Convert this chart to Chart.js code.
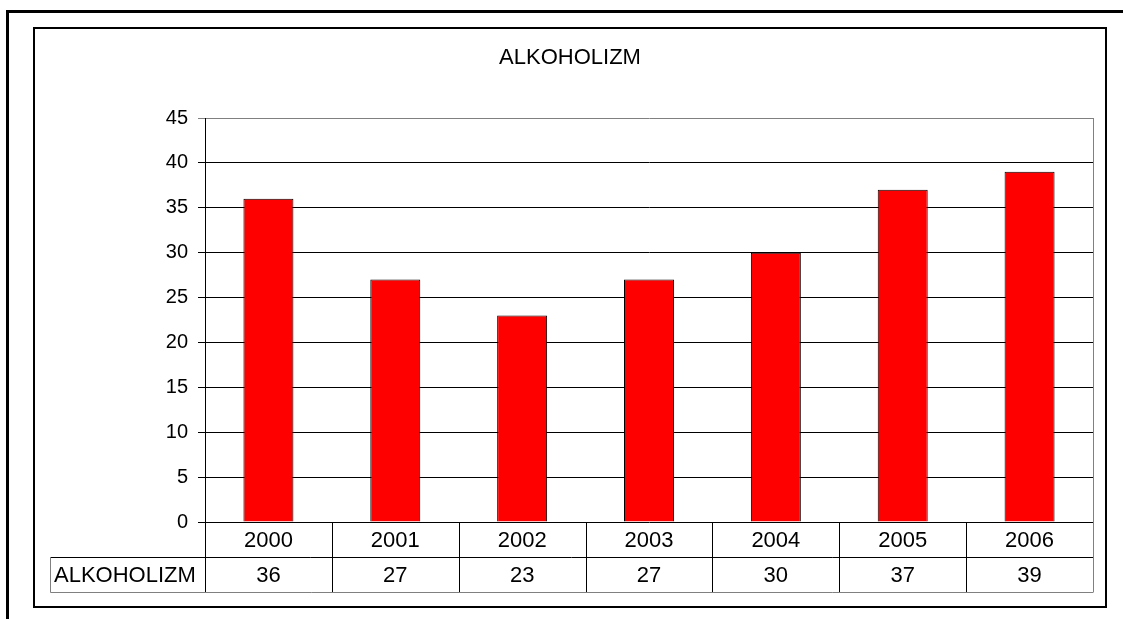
<!DOCTYPE html>
<html>
<head>
<meta charset="utf-8">
<script src="https://cdn.jsdelivr.net/npm/chart.js"></script>
<style>
  html, body { margin: 0; padding: 0; background: #ffffff; }
  #chart { display: block; }
</style>
</head>
<body>
<canvas id="chart" width="1123" height="619"></canvas>
<script>
const seriesName = "ALKOHOLIZM";
const years = ["2000", "2001", "2002", "2003", "2004", "2005", "2006"];
const alkoholizm = [36, 27, 23, 27, 30, 37, 39];
const yMax = 45;
const yStep = 5;

const FONT = "'Liberation Sans', Arial, sans-serif";

// white page, the two frames and the title
const framePlugin = {
  id: "frames",
  beforeDraw(chart) {
    const ctx = chart.ctx;
    ctx.save();
    ctx.fillStyle = "#ffffff";
    ctx.fillRect(0, 0, chart.width, chart.height);
    ctx.fillStyle = "#000000";
    ctx.fillRect(6, 10, chart.width - 6, 3);
    ctx.fillRect(6, 10, 3, chart.height - 10);
    ctx.strokeStyle = "#000000";
    ctx.lineWidth = 2;
    ctx.strokeRect(34, 28, 1072, 579);

    ctx.font = "22px " + FONT;
    ctx.textAlign = "center";
    ctx.textBaseline = "middle";
    ctx.fillText(seriesName, 570, 58);
    ctx.restore();
  }
};

// data table under the plot, built from the x scale
const tablePlugin = {
  id: "dataTable",
  afterDraw(chart) {
    const ctx = chart.ctx;
    const area = chart.chartArea;
    const x = chart.scales.x;
    const rowH = 35;
    const labelLeft = 50;
    const top = Math.round(area.bottom);
    const mid = top + rowH;
    const bottom = mid + rowH;
    const right = Math.round(area.right);
    const catW = (area.right - area.left) / years.length;

    ctx.save();
    ctx.lineWidth = 1;

    // right border of plot area
    ctx.strokeStyle = "#808080";
    ctx.beginPath();
    ctx.moveTo(right + 0.5, Math.round(area.top));
    ctx.lineTo(right + 0.5, bottom);
    ctx.stroke();

    // inner lines
    ctx.strokeStyle = "#000000";
    ctx.beginPath();
    ctx.moveTo(labelLeft, mid + 0.5);
    ctx.lineTo(right, mid + 0.5);
    for (let i = 0; i < years.length; i++) {
      const bx = Math.round(area.left + i * catW) + 0.5;
      ctx.moveTo(bx, top);
      ctx.lineTo(bx, bottom);
    }
    ctx.stroke();

    // outer edges of table
    ctx.strokeStyle = "#808080";
    ctx.beginPath();
    ctx.moveTo(labelLeft + 0.5, mid);
    ctx.lineTo(labelLeft + 0.5, bottom + 0.5);
    ctx.lineTo(right + 0.5, bottom + 0.5);
    ctx.stroke();

    ctx.fillStyle = "#000000";
    ctx.font = "22px " + FONT;
    ctx.textBaseline = "middle";
    ctx.textAlign = "center";
    years.forEach((yr, i) => {
      const cx = x.getPixelForValue(i);
      ctx.fillText(yr, cx, top + rowH / 2 + 1);
      ctx.fillText(String(alkoholizm[i]), cx, mid + rowH / 2 + 1);
    });
    ctx.textAlign = "left";
    ctx.fillText(seriesName, labelLeft + 4, mid + rowH / 2 + 1);
    ctx.restore();
  }
};

new Chart(document.getElementById("chart").getContext("2d"), {
  type: "bar",
  data: {
    labels: years,
    datasets: [{
      label: seriesName,
      data: alkoholizm,
      backgroundColor: "#ff0000",
      borderColor: "#000000",
      borderWidth: 1,
      categoryPercentage: 1,
      barPercentage: 0.394
    }]
  },
  options: {
    responsive: false,
    animation: false,
    layout: {
      padding: { left: 105, right: 30, top: 118, bottom: 97 }
    },
    plugins: {
      legend: { display: false },
      tooltip: { enabled: false },
      title: { display: false }
    },
    scales: {
      x: {
        display: false,
        offset: true,
        grid: { display: false }
      },
      y: {
        min: 0,
        max: yMax,
        afterFit(scale) { scale.width = 100; },
        ticks: {
          stepSize: yStep,
          padding: 10,
          color: "#000000",
          font: { family: FONT, size: 20 }
        },
        grid: {
          color: (c) => (c.tick && c.tick.value === yMax ? "#808080" : "#000000"),
          tickLength: 7,
          lineWidth: 1
        },
        border: { display: true, color: "#000000", width: 1 }
      }
    }
  },
  plugins: [framePlugin, tablePlugin]
});
</script>
</body>
</html>
